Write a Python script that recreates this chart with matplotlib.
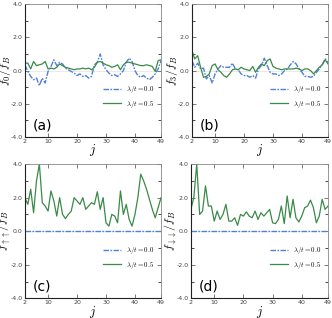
import numpy as np
import matplotlib
matplotlib.use('Agg')
import matplotlib.pyplot as plt
from matplotlib.ticker import MultipleLocator

plt.rcParams['mathtext.fontset'] = 'cm'

j = np.arange(2, 50)

f0_a = [0.35, -0.05, -0.35, -0.55, -0.45, -0.9, -0.45, -0.75, -0.05, 0.25, 0.65, 0.3, 0.5, 0.4, 0.15,
        0.05, -0.05, -0.15, -0.3, -0.2, -0.35, -0.3, -0.45, -0.35, 0.35, 0.5, 1.0, 0.35, 0.05, -0.15,
        -0.3, -0.25, -0.35, -0.2, 0.0, 0.5, 0.75, 0.55, 0.0, -0.3, -0.4, -0.3, -0.45, -0.55, -0.4,
        -0.2, 0.1, 0.6]
f0_b = [0.45, 0.45, 0.1, 0.55, 0.3, 0.35, 0.4, 0.55, 0.1, 0.15, 0.1, 0.2, 0.4, 0.3, 0.2,
        0.15, 0.1, 0.05, 0.1, 0.1, 0.15, 0.1, 0.15, 0.05, 0.2, 0.5, 0.55, 0.45, 0.35, 0.3,
        0.2, 0.25, 0.35, 0.05, 0.35, 0.5, 0.5, 0.45, 0.4, 0.35, 0.3, 0.3, 0.35, 0.3, 0.25,
        -0.05, 0.6, 0.65]
f3_a = [0.6, 0.2, 0.45, 0.1, 0.15, -0.5, -0.3, -0.75, -0.2, 0.1, 0.3, 0.2, 0.2, 0.2, 0.45,
        0.1, 0.05, -0.2, -0.3, -0.3, -0.4, -0.3, -0.45, 0.1, 0.3, 0.75, 0.3, -0.1, -0.2, -0.2,
        -0.3, -0.2, 0.0, 0.1, 0.35, 0.55, 0.4, 0.1, -0.1, -0.35, -0.35, -0.4, -0.35, -0.1, 0.1,
        0.35, 0.7, 0.5]
f3_b = [1.2, 0.7, 0.9, 0.2, -0.4, -0.35, -0.2, 0.3, 0.4, 0.05, -0.1, -0.3, -0.4, -0.2, 0.05,
        0.1, 0.05, 0.2, 0.1, 0.05, 0.0, 0.25, -0.1, 0.2, 0.4, 0.3, 0.6, 0.7, 0.25, 0.15,
        0.1, 0.05, 0.1, 0.1, 0.1, 0.1, 0.15, 0.1, 0.0, 0.1, 0.1, 0.0, -0.2, 0.0, 0.2,
        0.35, 0.65, 0.4]
fuu_b = [2.0, 1.6, 2.5, 1.1, 3.0, 4.0, 1.7, 1.5, 1.2, 2.4, 1.8, 0.9, 2.0, 1.0, 0.75,
         1.0, 1.2, 2.0, 1.8, 1.6, 2.0, 1.3, 1.5, 1.7, 1.6, 2.35, 1.3, 2.0, 0.5, 0.3,
         1.0, 0.9, 0.5, 2.4, 1.0, 1.6, 0.7, 0.3, 1.0, 2.0, 3.4, 3.0, 2.5, 1.9, 1.3,
         0.8, 1.4, 2.0]
fdd_b = [1.3, 2.0, 4.0, 1.0, 1.2, 2.7, 1.5, 1.5, 0.6, 1.2, 0.7, 1.0, 1.6, 0.6, 0.6,
         0.8, 0.35, 1.0, 0.9, 1.15, 0.9, 0.8, 1.2, 0.7, 1.1, 0.9, 1.1, 1.3, 0.5, 0.45,
         0.7, 1.5, 0.45, 2.1, 0.8, 1.9, 0.8, 0.55, 0.9, 1.4, 1.5, 1.85, 1.4, 0.5, 0.9,
         1.9, 1.3, 1.5]
zeros = [0.0] * 48

panels = [
    ('(a)', r'$f_0/f_B$', f0_a, f0_b),
    ('(b)', r'$f_3/f_B$', f3_a, f3_b),
    ('(c)', r'$f_{\uparrow\uparrow}/f_B$', zeros, fuu_b),
    ('(d)', r'$f_{\downarrow\downarrow}/f_B$', zeros, fdd_b),
]

blue = '#5080d8'
green = '#3a8a48'

fig = plt.figure(figsize=(3.32, 3.18), dpi=100)
rects = [
    [0.075, 0.569, 0.410, 0.418],
    [0.578, 0.569, 0.410, 0.418],
    [0.075, 0.062, 0.410, 0.422],
    [0.575, 0.062, 0.413, 0.422],
]

for rect, (tag, ylab, s0, s5) in zip(rects, panels):
    ax = fig.add_axes(rect)
    ax.axhline(0, color='#e6e6e6', lw=0.6, zorder=0)
    ax.plot(j, s0, '-.', color=blue, lw=1.0, dashes=(4, 1, 1.2, 1), label=r'$\lambda/t = 0.0$')
    ax.plot(j, s5, '-', color=green, lw=0.9, label=r'$\lambda/t = 0.5$')
    ax.set_xlim(2, 49)
    ax.set_ylim(-4, 4)
    ax.set_xticks([2, 10, 20, 30, 40, 49])
    ax.set_yticks([-4, -2, 0, 2, 4])
    ax.set_yticklabels(['-4.0', '-2.0', '0.0', '2.0', '4.0'])
    ax.yaxis.set_minor_locator(MultipleLocator(1))
    ax.tick_params(direction='in', labelsize=4.5, length=3, width=0.5,
                   top=True, right=True, pad=1.5, colors='#444444')
    ax.tick_params(which='minor', direction='in', length=2, width=0.5, right=True)
    for side in ['left', 'bottom']:
        ax.spines[side].set_color('#222222')
        ax.spines[side].set_linewidth(0.8)
    for side in ['top', 'right']:
        ax.spines[side].set_color('#888888')
        ax.spines[side].set_linewidth(0.6)
    ax.set_ylabel(ylab, fontsize=8.5)
    ax.yaxis.set_label_coords(-0.085, 0.5)
    ax.set_xlabel(r'$j$', fontsize=9)
    ax.xaxis.set_label_coords(0.5, -0.04)
    ax.text(0.06, 0.06, tag, transform=ax.transAxes, fontsize=10)
    ax.legend(loc='lower right', bbox_to_anchor=(1.0, 0.16), fontsize=5,
              frameon=False, handlelength=2.5, labelspacing=0.5)

fig.savefig('out.png', dpi=100)
